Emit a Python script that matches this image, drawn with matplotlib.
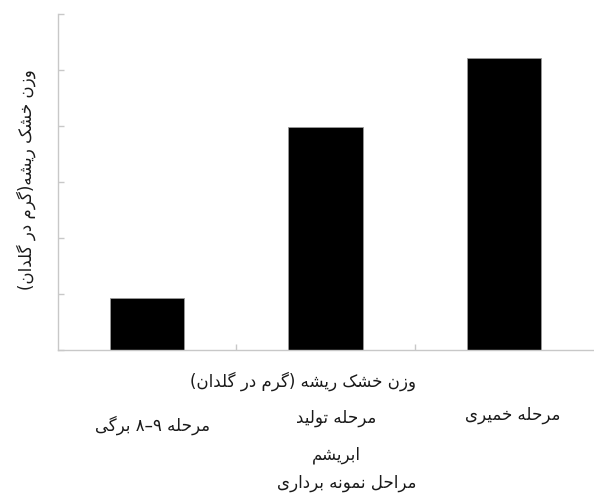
import matplotlib
matplotlib.use("Agg")
import matplotlib.pyplot as plt

# data (bar heights in y-tick units)
categories = ["مرحله ۸–۹ برگی", "مرحله تولید\nابریشم", "مرحله خمیری"]
values = [0.92, 3.98, 5.22]
y_ticks = [0, 1, 2, 3, 4, 5, 6]
series_name = "وزن خشک ریشه (گرم در گلدان)"
y_label = "وزن خشک ریشه(گرم در گلدان)"
x_label = "مراحل نمونه برداری"

# minimal Persian shaping, matplotlib has no text shaping of its own
FORMS = {  # isolated, final, initial, medial
    "ا": (0xFE8D, 0xFE8E, None, None),
    "ب": (0xFE8F, 0xFE90, 0xFE91, 0xFE92),
    "ت": (0xFE95, 0xFE96, 0xFE97, 0xFE98),
    "ح": (0xFEA1, 0xFEA2, 0xFEA3, 0xFEA4),
    "خ": (0xFEA5, 0xFEA6, 0xFEA7, 0xFEA8),
    "د": (0xFEA9, 0xFEAA, None, None),
    "ر": (0xFEAD, 0xFEAE, None, None),
    "ز": (0xFEAF, 0xFEB0, None, None),
    "ش": (0xFEB5, 0xFEB6, 0xFEB7, 0xFEB8),
    "ل": (0xFEDD, 0xFEDE, 0xFEDF, 0xFEE0),
    "م": (0xFEE1, 0xFEE2, 0xFEE3, 0xFEE4),
    "ن": (0xFEE5, 0xFEE6, 0xFEE7, 0xFEE8),
    "ه": (0xFEE9, 0xFEEA, 0xFEEB, 0xFEEC),
    "و": (0xFEED, 0xFEEE, None, None),
    "ک": (0xFB8E, 0xFB8F, 0xFB90, 0xFB91),
    "گ": (0xFB92, 0xFB93, 0xFB94, 0xFB95),
    "ی": (0xFBFC, 0xFBFD, 0xFBFE, 0xFBFF),
}
MIRROR = {"(": ")", ")": "("}
LTR = set("۰۱۲۳۴۵۶۷۸۹–0123456789")


def shape(text):
    out = []
    for i, ch in enumerate(text):
        if ch not in FORMS:
            out.append(ch)
            continue
        prev = text[i - 1] if i > 0 else ""
        nxt = text[i + 1] if i + 1 < len(text) else ""
        j_prev = prev in FORMS and FORMS[prev][2] is not None
        j_next = FORMS[ch][2] is not None and nxt in FORMS
        iso, fin, ini, med = FORMS[ch]
        if j_prev and j_next:
            code = med
        elif j_prev:
            code = fin
        elif j_next:
            code = ini
        else:
            code = iso
        out.append(chr(code))
    return "".join(out)


def visual(line):
    s = shape(line)[::-1]
    res, run = [], []
    for ch in s:
        if ch in LTR:
            run.append(ch)
            continue
        if run:
            res.extend(run[::-1])
            run = []
        res.append(MIRROR.get(ch, ch))
    res.extend(run[::-1])
    return "".join(res)


plt.rcParams["font.family"] = ["DejaVu Sans"]
W, H = 594, 497
fig = plt.figure(figsize=(W / 100, H / 100), dpi=100)
ax = fig.add_axes([58 / W, 1 - 350 / H, 535 / W, 336 / H])

x = range(len(categories))
ax.bar(x, values, width=0.415, color="black", edgecolor="#9a9a9a", linewidth=0.6)

ax.set_xlim(-0.5, len(categories) - 0.5)
ax.set_ylim(y_ticks[0], y_ticks[-1])
ax.set_yticks(y_ticks)
ax.set_yticklabels([])
ax.set_xticks([i + 0.5 for i in range(len(categories) - 1)])
ax.set_xticklabels([])

grey = "#c8c8c8"
for side in ["top", "right"]:
    ax.spines[side].set_visible(False)
for side in ["left", "bottom"]:
    ax.spines[side].set_color(grey)
    ax.spines[side].set_linewidth(1.0)
ax.tick_params(axis="both", direction="in", length=4, width=1.0, color=grey)

tcol = "#1a1a1a"
fs = 12
# category labels: x offset in data units, first-line y in pixels, line step 37 px
label_dx = [0.03, 0.06, 0.05]
label_y = [425, 418, 415]
for i, cat in enumerate(categories):
    xf = ax.transData.transform((i + label_dx[i], 0))[0] / W
    for k, line in enumerate(cat.split("\n")):
        fig.text(xf, 1 - (label_y[i] + 37 * k) / H, visual(line), ha="center",
                 va="center", fontsize=fs, color=tcol)

fig.text(303 / W, 1 - 381 / H, visual(series_name), ha="center", va="center",
         fontsize=fs, color=tcol)
fig.text(347 / W, 1 - 483 / H, visual(x_label), ha="center", va="center",
         fontsize=fs, color=tcol)
fig.text(26 / W, 1 - 180 / H, visual(y_label), ha="center", va="center",
         rotation=90, fontsize=fs, color=tcol)

fig.savefig("out.png", dpi=100)
